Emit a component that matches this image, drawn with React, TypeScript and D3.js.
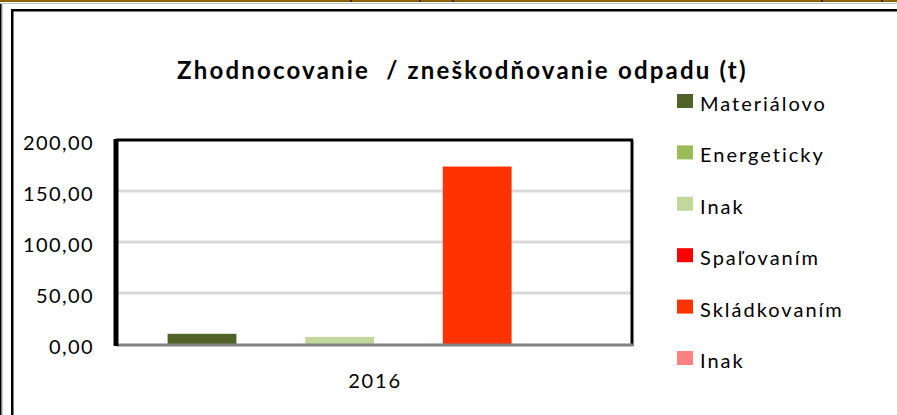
import React from "react";
import * as d3 from "d3";

// chart data
const categories = ["2016"];
const seriesNames = ["Materiálovo", "Energeticky", "Inak", "Spaľovaním", "Skládkovaním", "Inak"];
const seriesColors = ["#4F6228", "#9BBB59", "#C3D69B", "#FF0000", "#FF3300", "#FF8080"];
const values2016 = [10, 0, 7, 0, 174, 0];
const yTicks = [0, 50, 100, 150, 200];

const width = 897;
const height = 415;
const plot = { left: 116, right: 632, top: 140, bottom: 344 };
const font = "Lato, 'Open Sans', sans-serif";

const fmt = (v: number) => d3.format(".2f")(v).replace(".", ",");

const App = () => {
  const y = d3.scaleLinear().domain([0, 200]).range([plot.bottom, plot.top]);
  const x0 = d3
    .scaleBand()
    .domain(categories)
    .range([plot.left, plot.right])
    .paddingInner(0)
    .paddingOuter(0);
  // excel gap width 150% -> the group takes 6 of 7.5 bar widths
  const bw = x0.bandwidth() / (seriesNames.length + 1.5);
  const x1 = d3
    .scaleBand<number>()
    .domain(d3.range(seriesNames.length))
    .range([bw * 0.75, x0.bandwidth() - bw * 0.75]);

  const legendY = d3.scalePoint<number>().domain(d3.range(seriesNames.length)).range([101, 358]);

  return (
    <svg
      width={width}
      height={height}
      style={{ position: "absolute", left: 0, top: 0, background: "#fff" }}
    >
      {/* bits of the sheet around the chart */}
      <rect x={0} y={0} width={width} height={2} fill="#8B6508" />
      {[350, 419, 452, 821, 881].map((d) => (
        <rect key={d} x={d} y={0} width={2} height={2} fill="#3a2a00" />
      ))}
      <rect x={0} y={3} width={width} height={1} fill="#c8c8c8" />
      <rect x={0} y={4} width={1.5} height={height} fill="#000" />
      <rect x={2} y={4} width={1} height={height} fill="#c8c8c8" />
      <rect x={11} y={9} width={width - 11} height={2.5} fill="#000" />
      <rect x={11} y={9} width={2.5} height={height} fill="#000" />

      <text
        x={177}
        y={79}
        fontFamily={font}
        fontWeight="bold"
        fontSize={24}
        letterSpacing={2.2}
        fill="#000"
        style={{ whiteSpace: "pre" }}
      >
        {"Zhodnocovanie  / zneškodňovanie odpadu (t)"}
      </text>

      {/* gridlines */}
      {yTicks.slice(1, -1).map((t) => (
        <line key={t} x1={plot.left} x2={plot.right} y1={y(t)} y2={y(t)} stroke="#D9D9D9" strokeWidth={3} />
      ))}

      {/* bars */}
      {categories.map((c) => (
        <g key={c} transform={`translate(${x0(c)},0)`}>
          {values2016.map((v, i) =>
            v > 0 ? (
              <rect
                key={i}
                x={x1(i)}
                y={y(v)}
                width={x1.bandwidth()}
                height={y(0) - y(v)}
                fill={seriesColors[i]}
              />
            ) : null
          )}
        </g>
      ))}

      {/* plot frame */}
      <line x1={plot.left} x2={plot.right + 1} y1={plot.top} y2={plot.top} stroke="#000" strokeWidth={3} />
      <line x1={plot.right} x2={plot.right} y1={plot.top} y2={plot.bottom + 2} stroke="#000" strokeWidth={3} />
      <line x1={plot.left} x2={plot.right + 1} y1={plot.bottom + 1} y2={plot.bottom + 1} stroke="#808080" strokeWidth={3} />
      <line x1={plot.left} x2={plot.left} y1={plot.top - 1} y2={plot.bottom + 2} stroke="#000" strokeWidth={5} />

      {/* y labels */}
      {yTicks.map((t) => (
        <text
          key={t}
          x={94}
          y={y(t) + 10}
          textAnchor="end"
          fontFamily={font}
          fontSize={20}
          letterSpacing={1.4}
          fill="#000"
        >
          {fmt(t)}
        </text>
      ))}

      {/* x label */}
      {categories.map((c) => (
        <text
          key={c}
          x={(x0(c) ?? 0) + x0.bandwidth() / 2 + 1}
          y={388}
          textAnchor="middle"
          fontFamily={font}
          fontSize={20}
          letterSpacing={1.8}
          fill="#000"
        >
          {c}
        </text>
      ))}

      {/* legend */}
      {seriesNames.map((n, i) => (
        <g key={i} transform={`translate(677,${legendY(i)})`}>
          <rect x={0} y={-7} width={16} height={14} fill={seriesColors[i]} />
          <text x={23} y={10} fontFamily={font} fontSize={20} letterSpacing={2} fill="#000">
            {n}
          </text>
        </g>
      ))}
    </svg>
  );
};

export default App;
